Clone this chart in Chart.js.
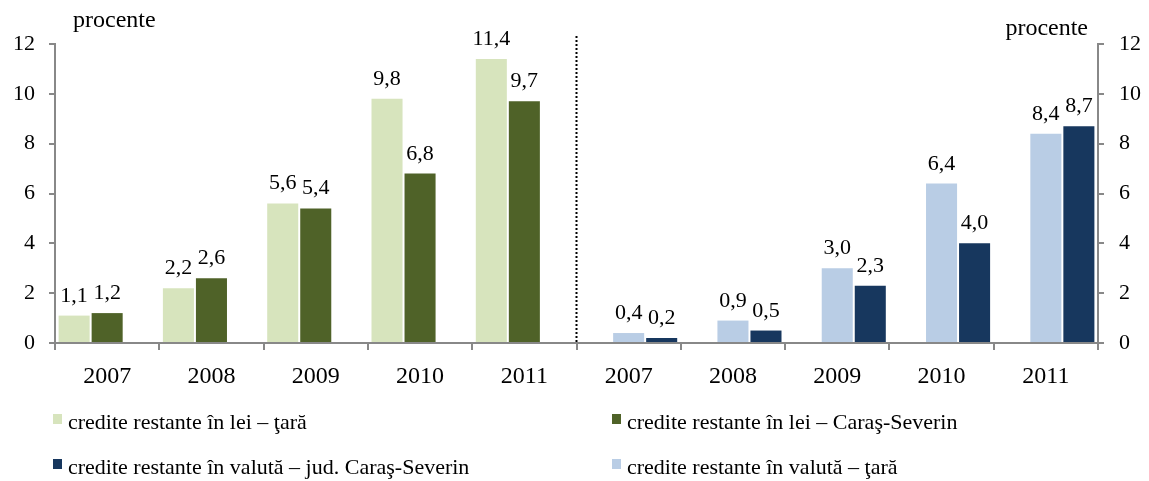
<!DOCTYPE html>
<html>
<head>
<meta charset="utf-8">
<script src="https://cdn.jsdelivr.net/npm/chart.js@4.4.0/dist/chart.umd.min.js"></script>
<style>
html, body { margin: 0; padding: 0; background: #fff; }
</style>
</head>
<body>
<canvas id="chart" width="1149" height="481"></canvas>
<script>
var ani = ['2007', '2008', '2009', '2010', '2011'];
var leiTara = [1.1, 2.2, 5.6, 9.8, 11.4];
var leiCaras = [1.2, 2.6, 5.4, 6.8, 9.7];
var valutaTara = [0.4, 0.9, 3.0, 6.4, 8.4];
var valutaCaras = [0.2, 0.5, 2.3, 4.0, 8.7];
var yTicks = [0, 2, 4, 6, 8, 10, 12];
var numeSerii = [
    'credite restante în lei – ţară',
    'credite restante în lei – Caraş-Severin',
    'credite restante în valută – ţară',
    'credite restante în valută – jud. Caraş-Severin'
];
var unitate = 'procente';

var culori = ['#D7E4BD', '#4F6228', '#B9CDE5', '#17375E'];
var axisColor = '#888888';
var font = "'Liberation Serif', 'Times New Roman', serif";

var goale = [null, null, null, null, null];
var categorii = ani.concat(ani);

function stanga(v) { return v.concat(goale); }
function dreapta(v) { return goale.concat(v); }

function formatVal(v) {
    return v.toFixed(1).replace('.', ',');
}

// etichete cu valori deasupra barelor
var valoriPlugin = {
    id: 'valori',
    afterDatasetsDraw: function(chart) {
        var ctx = chart.ctx;
        ctx.save();
        ctx.font = '22px ' + font;
        ctx.fillStyle = '#000';
        ctx.textAlign = 'center';
        ctx.textBaseline = 'alphabetic';
        chart.data.datasets.forEach(function(ds, i) {
            var meta = chart.getDatasetMeta(i);
            meta.data.forEach(function(bar, j) {
                var v = ds.data[j];
                if (v === null) return;
                ctx.fillText(formatVal(v), bar.x, bar.y - 14);
            });
        });
        ctx.restore();
    }
};

// linia punctata dintre cele doua grupe + "procente"
var separatorPlugin = {
    id: 'separator',
    afterDraw: function(chart) {
        var ctx = chart.ctx;
        var x = chart.scales.x;
        var a = chart.chartArea;
        var px = (x.getPixelForValue(4) + x.getPixelForValue(5)) / 2;
        ctx.save();
        ctx.strokeStyle = '#000';
        ctx.lineWidth = 2;
        ctx.setLineDash([2, 2]);
        ctx.beginPath();
        ctx.moveTo(px, a.top - 8);
        ctx.lineTo(px, a.bottom);
        ctx.stroke();
        ctx.setLineDash([]);

        ctx.font = '24px ' + font;
        ctx.fillStyle = '#000';
        ctx.textBaseline = 'alphabetic';
        ctx.textAlign = 'left';
        ctx.fillText(unitate, a.left + 18, a.top - 17);
        ctx.textAlign = 'right';
        ctx.fillText(unitate, a.right - 10, a.top - 9);
        ctx.restore();
    }
};

// legenda pe doua coloane
var legendaPlugin = {
    id: 'legenda',
    afterDraw: function(chart) {
        var ctx = chart.ctx;
        var a = chart.chartArea;
        var ordine = [0, 1, 3, 2];
        var coloane = [a.left - 2, a.left + 557];
        var randuri = [429, 474];
        ctx.save();
        ctx.font = '22px ' + font;
        ctx.textBaseline = 'alphabetic';
        ctx.textAlign = 'left';
        ordine.forEach(function(idx, k) {
            var cx = coloane[k % 2];
            var cy = randuri[Math.floor(k / 2)];
            ctx.fillStyle = chart.data.datasets[idx].backgroundColor;
            ctx.fillRect(cx, cy - 15, 9, 10);
            ctx.fillStyle = '#000';
            ctx.fillText(chart.data.datasets[idx].label, cx + 15, cy);
        });
        ctx.restore();
    }
};

function axaY(pozitie, latime, pad) {
    return {
        position: pozitie,
        min: 0,
        max: 12,
        afterBuildTicks: function(s) {
            s.ticks = yTicks.map(function(v) { return { value: v }; });
        },
        afterFit: function(s) { s.width = latime; },
        grid: { drawOnChartArea: false, drawTicks: true, tickLength: 6, color: axisColor, lineWidth: 2 },
        border: { color: axisColor, width: 2 },
        ticks: { color: '#000', font: { family: font, size: 22 }, padding: pad }
    };
}

var ctx = document.getElementById('chart');
var chart = new Chart(ctx, {
    type: 'bar',
    data: {
        labels: categorii,
        datasets: [{
            label: numeSerii[0],
            data: stanga(leiTara),
            backgroundColor: culori[0],
            stack: 'a',
            yAxisID: 'y'
        }, {
            label: numeSerii[1],
            data: stanga(leiCaras),
            backgroundColor: culori[1],
            stack: 'b',
            yAxisID: 'y'
        }, {
            label: numeSerii[2],
            data: dreapta(valutaTara),
            backgroundColor: culori[2],
            stack: 'b',
            yAxisID: 'y2'
        }, {
            label: numeSerii[3],
            data: dreapta(valutaCaras),
            backgroundColor: culori[3],
            stack: 'c',
            yAxisID: 'y2'
        }]
    },
    options: {
        responsive: false,
        animation: false,
        devicePixelRatio: 1,
        categoryPercentage: 0.95,
        barPercentage: 0.94,
        layout: { padding: { top: 44, bottom: 88, left: 0, right: 0 } },
        plugins: {
            legend: { display: false },
            tooltip: { enabled: false }
        },
        scales: {
            x: {
                stacked: true,
                afterFit: function(s) { s.height = 50; },
                grid: { offset: true, drawOnChartArea: false, drawTicks: true, tickLength: 7, color: axisColor, lineWidth: 2 },
                border: { color: axisColor, width: 2 },
                ticks: { color: '#000', font: { family: font, size: 24 }, padding: 12, maxRotation: 0, autoSkip: false }
            },
            y: axaY('left', 55, 14),
            y2: axaY('right', 51, 15)
        }
    },
    plugins: [valoriPlugin, separatorPlugin, legendaPlugin]
});
</script>
</body>
</html>
